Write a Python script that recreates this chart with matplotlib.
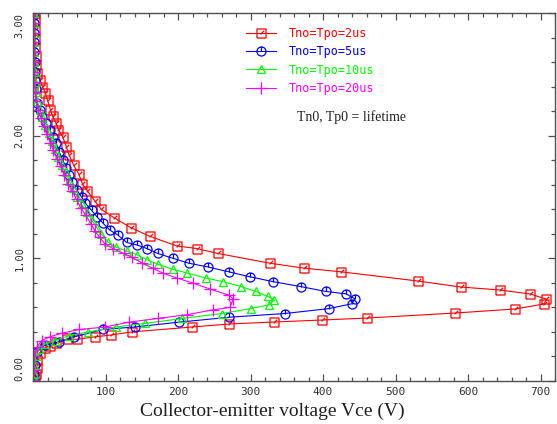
import numpy as np
import matplotlib
matplotlib.use('Agg')
import matplotlib.pyplot as plt
from matplotlib.path import Path
from matplotlib.ticker import MultipleLocator, FixedLocator

# Tn0 = Tp0 = 2us
x_2us = [3, 3, 3, 3, 3, 4, 4, 6, 10, 13, 17, 20, 24, 27, 32, 35, 41, 46, 50, 56, 63, 68, 75, 85, 94,
         112, 135, 161, 199, 226, 255, 327, 374, 425, 531, 590, 644, 686, 708,
         705, 665, 582, 460, 398, 333, 271, 219, 136, 108, 85, 61, 47, 32, 23, 16, 9, 6, 5, 4, 3]
y_2us = [3.00, 2.94, 2.86, 2.79, 2.72, 2.65, 2.58, 2.51, 2.45, 2.40, 2.35, 2.29, 2.21, 2.16, 2.10, 2.05,
         1.99, 1.91, 1.84, 1.76, 1.69, 1.61, 1.55, 1.47, 1.40, 1.33, 1.25, 1.18, 1.10, 1.08, 1.04, 0.96,
         0.92, 0.89, 0.815, 0.766, 0.742, 0.709, 0.668,
         0.628, 0.587, 0.554, 0.513, 0.497, 0.481, 0.465, 0.44, 0.40, 0.375, 0.36, 0.34, 0.34, 0.31,
         0.285, 0.27, 0.23, 0.17, 0.11, 0.06, 0.02]

# Tn0 = Tp0 = 5us
x_5us = [2, 2, 2, 2, 2, 3, 3, 3, 4, 5, 9, 13, 18, 23, 27, 32, 36, 41, 46, 50, 54, 60, 67, 72, 81, 88,
         96, 106, 117, 129, 143, 157, 172, 193, 215, 241, 270, 299, 331, 369, 404, 432, 444,
         440, 408, 347, 271, 202, 140, 96, 57, 36, 16, 6, 3, 2, 1]
y_5us = [3.00, 2.92, 2.84, 2.76, 2.68, 2.60, 2.52, 2.45, 2.38, 2.27, 2.21, 2.15, 2.10, 2.05, 1.99, 1.94,
         1.87, 1.80, 1.74, 1.68, 1.62, 1.56, 1.50, 1.45, 1.39, 1.34, 1.29, 1.23, 1.19, 1.13, 1.11, 1.08,
         1.04, 1.00, 0.96, 0.93, 0.89, 0.85, 0.81, 0.77, 0.73, 0.71, 0.67,
         0.63, 0.59, 0.55, 0.52, 0.48, 0.44, 0.42, 0.36, 0.32, 0.29, 0.24, 0.13, 0.06, 0.01]

# Tn0 = Tp0 = 10us
x_10us = [2, 2, 2, 2, 2, 2, 3, 3, 4, 6, 9, 13, 17, 22, 26, 31, 35, 40, 45, 50, 55, 61, 67, 74, 81, 88,
          94, 104, 115, 129, 143, 157, 173, 193, 213, 238, 262, 287, 307, 324, 333,
          325, 300, 260, 206, 155, 114, 76, 50, 30, 16, 8, 4, 2, 1, 1]
y_10us = [3.00, 2.92, 2.84, 2.76, 2.68, 2.60, 2.52, 2.44, 2.36, 2.28, 2.21, 2.15, 2.09, 2.02, 1.96,
          1.89, 1.83, 1.76, 1.70, 1.63, 1.57, 1.50, 1.44, 1.38, 1.31, 1.25, 1.20, 1.13, 1.09, 1.06,
          1.03, 0.99, 0.95, 0.91, 0.88, 0.84, 0.81, 0.77, 0.73, 0.69, 0.66,
          0.62, 0.59, 0.55, 0.51, 0.47, 0.44, 0.40, 0.37, 0.33, 0.30, 0.26, 0.20, 0.13, 0.06, 0.01]

# Tn0 = Tp0 = 20us
x_20us = [1, 1, 1, 1, 1, 2, 2, 2, 3, 4, 7, 11, 15, 19, 24, 28, 33, 38, 43, 48, 54, 60, 66, 73, 80, 86,
          92, 99, 110, 125, 136, 151, 165, 179, 198, 220, 244, 270, 276,
          272, 248, 212, 172, 133, 99, 64, 40, 23, 12, 6, 2, 1, 0.5]
y_20us = [3.00, 2.92, 2.84, 2.76, 2.68, 2.60, 2.52, 2.44, 2.36, 2.28, 2.21, 2.14, 2.08, 2.01, 1.94,
          1.88, 1.81, 1.75, 1.68, 1.61, 1.55, 1.48, 1.41, 1.35, 1.28, 1.22, 1.17, 1.12, 1.08, 1.04,
          1.01, 0.96, 0.92, 0.88, 0.84, 0.80, 0.75, 0.70, 0.67,
          0.60, 0.58, 0.54, 0.51, 0.48, 0.44, 0.42, 0.39, 0.36, 0.33, 0.28, 0.20, 0.09, 0.01]

labels = ['Tno=Tpo=2us', 'Tno=Tpo=5us', 'Tno=Tpo=10us', 'Tno=Tpo=20us']
colors = ['#ff0000', '#0000ff', '#00ff00', '#ff00ff']

# square with a small slash, circle with a tick from the top (like the simulator's symbols)
sq_slash = Path.make_compound_path(
    Path([[-1, -1], [1, -1], [1, 1], [-1, 1], [-1, -1]]),
    Path([[-0.2, -0.2], [0.6, 0.6]]))
circ_tick = Path.make_compound_path(Path.unit_circle(), Path([[0, 0], [0, 1]]))
markers = [sq_slash, circ_tick, '^', '+']
msizes = [6.5, 6.5, 6, 8]

fig = plt.figure(figsize=(5.57, 4.24), dpi=100)
ax = fig.add_axes([33 / 557, 1 - 381 / 424, 522 / 557, 368 / 424])

series = [(x_2us, y_2us), (x_5us, y_5us), (x_10us, y_10us), (x_20us, y_20us)]
for (xs, ys), lab, c, m, ms in zip(series, labels, colors, markers, msizes):
    ax.plot(xs, ys, color=c, lw=0.8, marker=m, ms=ms, mfc='none', mec=c, mew=0.9, label=lab)

ax.set_xlim(0, 720)
ax.set_ylim(0, 3.0)

ax.xaxis.set_major_locator(FixedLocator([100, 200, 300, 400, 500, 600, 700]))
ax.xaxis.set_minor_locator(MultipleLocator(20))
ax.yaxis.set_major_locator(MultipleLocator(1.0))
ax.yaxis.set_minor_locator(MultipleLocator(0.2))

frame_col = '#505050'
for sp in ax.spines.values():
    sp.set_color(frame_col)
    sp.set_linewidth(1.0)
ax.tick_params(which='both', direction='in', top=True, right=True, color=frame_col, width=0.9)
ax.tick_params(which='major', length=5)
ax.tick_params(which='minor', length=3)
ax.tick_params(axis='x', pad=4, labelsize=8, labelcolor='#303030')
ax.tick_params(axis='y', pad=6, labelsize=7.5, labelcolor='#303030')

mono = 'DejaVu Sans Mono'
for t in ax.get_xticklabels():
    t.set_family(mono)
ax.set_yticks([0, 1, 2, 3])
ax.set_yticklabels(['%.2f' % v for v in [0, 1, 2, 3]], rotation=90, family=mono)
ylabs = ax.get_yticklabels()
for t in ylabs:
    t.set_va('center')
ylabs[0].set_va('bottom')
ylabs[-1].set_va('top')

leg = ax.legend(loc='upper left', bbox_to_anchor=(246 / 557, 1 - 27 / 424), bbox_transform=fig.transFigure,
                frameon=False, numpoints=1, handlelength=2.5, handletextpad=1.1, labelspacing=0.45,
                prop={'family': mono, 'size': 8.5}, borderpad=0, borderaxespad=0)
for txt, c in zip(leg.get_texts(), colors):
    txt.set_color(c)

fig.text(297 / 557, 1 - 117 / 424, 'Tn0, Tp0 = lifetime', family='Liberation Serif', fontsize=10,
         va='center', ha='left', color='#202020')

fig.text(272 / 557, 1 - 411 / 424, 'Collector-emitter voltage Vce (V)', family='Liberation Serif',
         fontsize=14, ha='center', va='center', color='#202020')

fig.savefig('out.png', dpi=100)
